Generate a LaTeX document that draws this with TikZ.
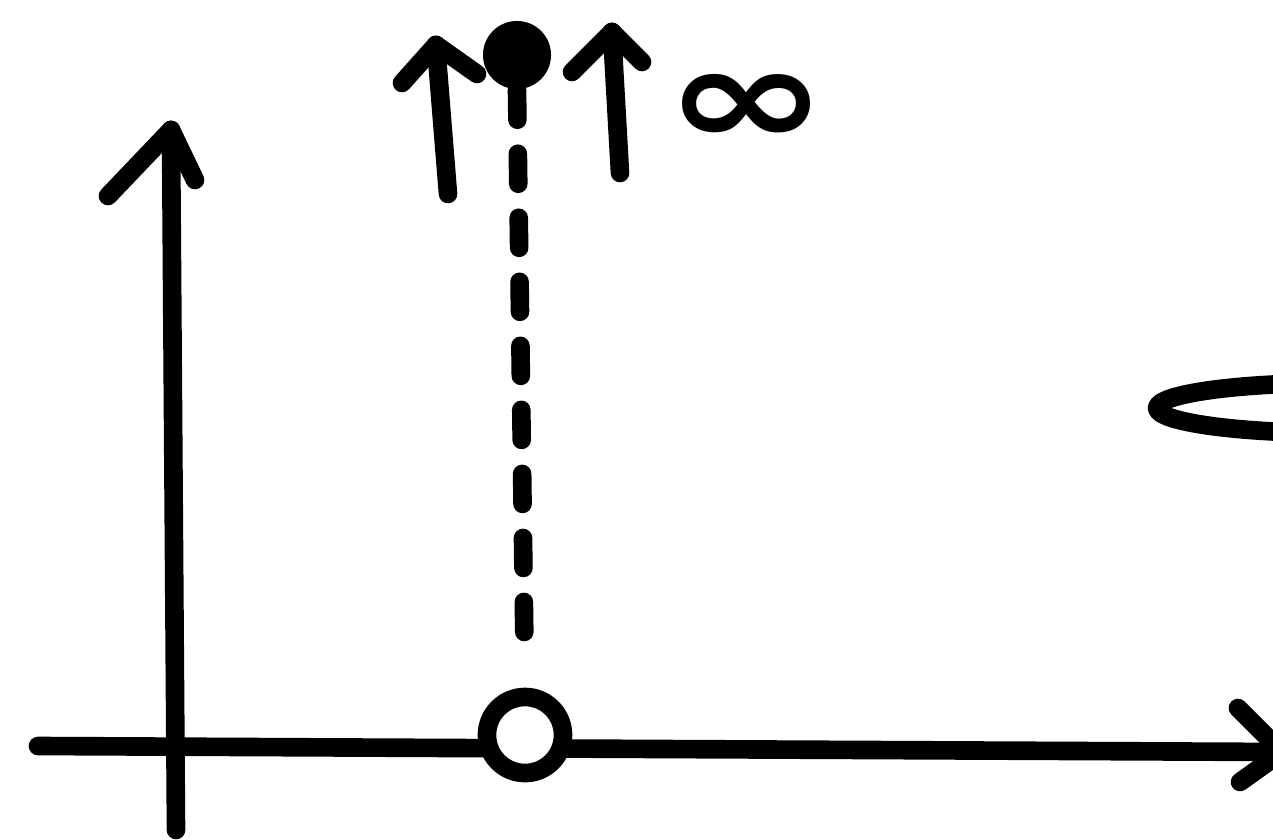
\documentclass[tikz,border=0pt]{standalone}
\usepackage{fontspec}
\newfontfamily\symfont{DejaVu Sans}
\usetikzlibrary{arrows.meta, positioning}

\begin{document}
\begin{tikzpicture}[
  x=0.01cm, y=-0.01cm,
  ink/.style={line width=5.3pt, line cap=round, line join=round},
  dot/.style={circle, fill, inner sep=0pt, minimum size=0.68cm},
  hole/.style={circle, draw, fill=white, line width=5.3pt, inner sep=0pt, minimum size=0.76cm},
  guide/.style={ink, dash pattern=on 0.3cm off 0.34cm},
  sym/.style={inner sep=0pt, font=\symfont\bfseries\fontsize{40}{40}\selectfont, xscale=1.4}
]
\useasboundingbox (0,0) rectangle (1273,840);
\clip (0,0) rectangle (1273,840);

% axes
\coordinate (yfoot) at (176,830);
\coordinate (ytip) at (171,130);
\coordinate (xfoot) at (38,746);
\coordinate (xtip) at (1282,752);
\draw[ink] (yfoot) -- (ytip);
\draw[ink] (ytip) -- ++(-63,66);
\draw[ink] (ytip) -- ++(24,50);
\draw[ink] (xfoot) -- (xtip);
\draw[ink] (xtip) -- ++(-44,-44);
\draw[ink] (xtip) -- ++(-42,30);

% pole and its value
\node[dot] (pole) at (517,55) {};
\node[hole] (zero) at (525,735) {};
\draw[guide, shorten >=0.3cm] (pole.south) -- (zero.north);

% arrows up to infinity
\coordinate (lup) at (436,45);
\coordinate (lfoot) at (448,194);
\draw[ink] (lfoot) -- (lup);
\draw[ink] (lup) -- ++(-34,38);
\draw[ink] (lup) -- ++(41,29);
\coordinate (rup) at (612,32);
\coordinate (rfoot) at (620,173);
\draw[ink] (rfoot) -- (rup);
\draw[ink] (rup) -- ++(-40,40);
\draw[ink] (rup) -- ++(30,30);
\node[sym] (inf) at (747,110) {∞};

% cut-off loop at the right
\draw[ink] (1334,408) ellipse [x radius=177, y radius=25];
\end{tikzpicture}
\end{document}
